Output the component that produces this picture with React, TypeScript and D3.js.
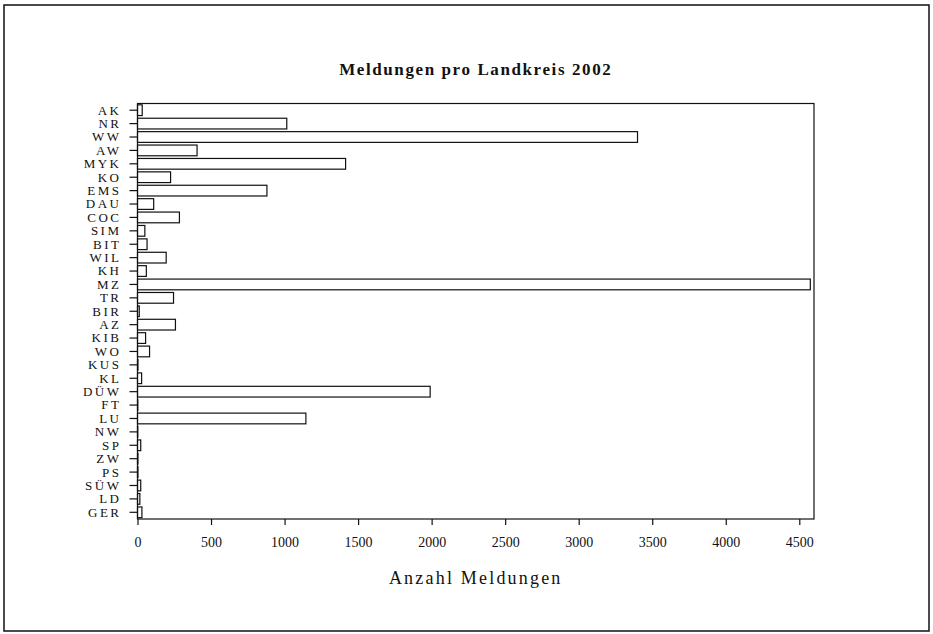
import React, { useRef, useEffect } from 'react';
import * as d3 from 'd3';

// Landkreise (top to bottom as in the chart)
const districts: string[] = [
  'AK', 'NR', 'WW', 'AW', 'MYK', 'KO', 'EMS', 'DAU', 'COC', 'SIM', 'BIT',
  'WIL', 'KH', 'MZ', 'TR', 'BIR', 'AZ', 'KIB', 'WO', 'KUS', 'KL', 'DÜW',
  'FT', 'LU', 'NW', 'SP', 'ZW', 'PS', 'SÜW', 'LD', 'GER'
];

// Meldungen 2002
const reports: number[] = [
  32, 1015, 3400, 405, 1415, 225, 880, 110, 285, 50, 65,
  195, 60, 4575, 245, 12, 258, 55, 82, 3, 28, 1990,
  2, 1145, 2, 22, 3, 3, 22, 16, 30
];

const xTicks: number[] = [0, 500, 1000, 1500, 2000, 2500, 3000, 3500, 4000, 4500];

const chartTitle = 'Meldungen pro Landkreis 2002';
const xTitle = 'Anzahl Meldungen';

const WIDTH = 933;
const HEIGHT = 634;

const BarChart: React.FC = () => {
  const svgRef = useRef<SVGSVGElement>(null);

  useEffect(() => {
    if (!svgRef.current) return;
    const svg = d3.select(svgRef.current);
    svg.selectAll('*').remove();

    const font = '"Liberation Serif", "Times New Roman", serif';
    const margin = { top: 103.5, right: WIDTH - 814, bottom: HEIGHT - 519, left: 137.5 };
    const innerWidth = WIDTH - margin.left - margin.right;
    const innerHeight = HEIGHT - margin.top - margin.bottom;

    // outer frame
    svg.append('rect')
      .attr('x', 4)
      .attr('y', 5)
      .attr('width', 925)
      .attr('height', 626)
      .attr('fill', 'white')
      .attr('stroke', '#111')
      .attr('stroke-width', 1.5);

    const data = districts.map((name, i) => ({ name, value: reports[i] }));

    const xScale = d3.scaleLinear().domain([0, 4600]).range([0, innerWidth]);
    const yScale = d3.scaleBand()
      .domain(districts)
      .range([0, innerHeight])
      .paddingInner(0.2)
      .paddingOuter(0.1);

    const g = svg.append('g')
      .attr('transform', `translate(${margin.left},${margin.top})`);

    // bars
    g.selectAll('.bar')
      .data(data)
      .enter()
      .append('rect')
      .attr('class', 'bar')
      .attr('x', 0)
      .attr('y', d => yScale(d.name) || 0)
      .attr('width', d => xScale(d.value))
      .attr('height', yScale.bandwidth())
      .attr('fill', 'white')
      .attr('stroke', '#111')
      .attr('stroke-width', 1.2);

    // plot box
    g.append('rect')
      .attr('width', innerWidth)
      .attr('height', innerHeight)
      .attr('fill', 'none')
      .attr('stroke', '#111')
      .attr('stroke-width', 1.2);

    // y axis
    const yAxis = g.append('g')
      .call(d3.axisLeft(yScale).tickSize(8).tickPadding(10).tickSizeOuter(0));
    yAxis.select('.domain').remove();
    yAxis.selectAll('line').attr('stroke', '#111').attr('stroke-width', 1.2);
    yAxis.selectAll('text')
      .style('font-family', font)
      .style('font-size', '13px')
      .style('letter-spacing', '2.5px')
      .style('fill', '#111')
      .attr('dx', '2px')
      .attr('dy', '0.34em');

    // x axis
    const xAxis = g.append('g')
      .attr('transform', `translate(0,${innerHeight})`)
      .call(d3.axisBottom(xScale).tickValues(xTicks).tickFormat(d3.format('d')).tickSize(6).tickPadding(12).tickSizeOuter(0));
    xAxis.select('.domain').remove();
    xAxis.selectAll('line').attr('stroke', '#111').attr('stroke-width', 1.2);
    xAxis.selectAll('text')
      .style('font-family', font)
      .style('font-size', '14px')
      .style('fill', '#111');

    // titles
    svg.append('text')
      .attr('x', margin.left + innerWidth / 2)
      .attr('y', 75)
      .attr('text-anchor', 'middle')
      .style('font-family', font)
      .style('font-size', '17px')
      .style('font-weight', 'bold')
      .style('letter-spacing', '1.6px')
      .style('fill', '#111')
      .text(chartTitle);

    svg.append('text')
      .attr('x', margin.left + innerWidth / 2)
      .attr('y', 584)
      .attr('text-anchor', 'middle')
      .style('font-family', font)
      .style('font-size', '18px')
      .style('letter-spacing', '2.2px')
      .style('fill', '#111')
      .text(xTitle);
  }, []);

  return (
    <svg
      ref={svgRef}
      width={WIDTH}
      height={HEIGHT}
      style={{ position: 'absolute', left: 0, top: 0, background: 'white' }}
      viewBox={`0 0 ${WIDTH} ${HEIGHT}`}
    />
  );
};

export default function App() {
  return <BarChart />;
}
